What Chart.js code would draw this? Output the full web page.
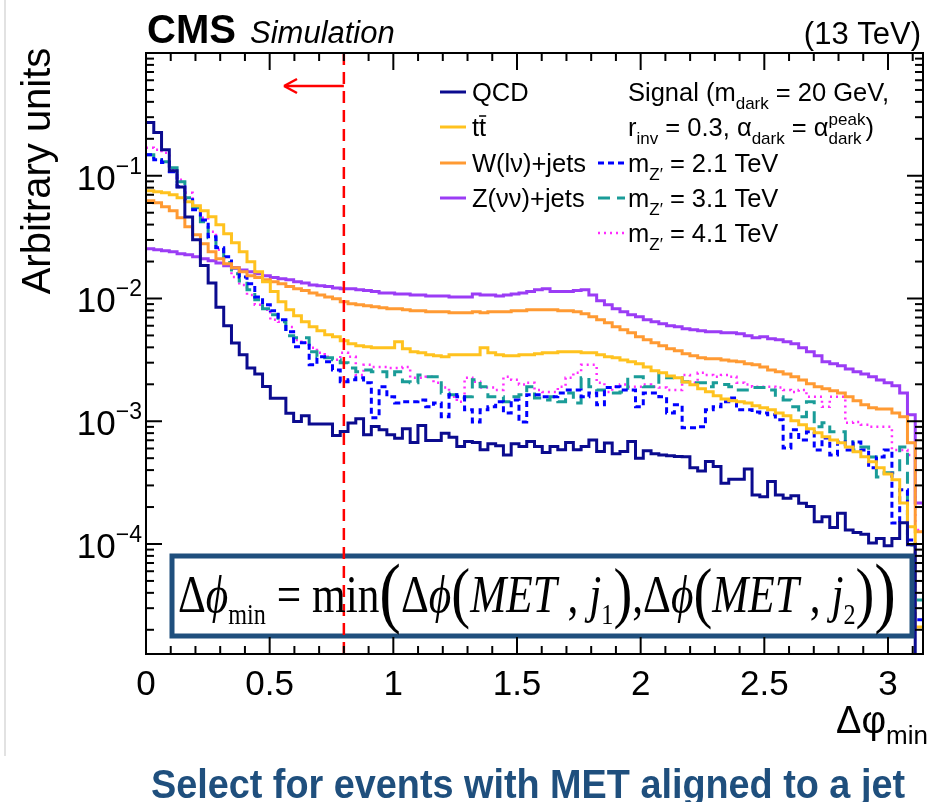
<!DOCTYPE html>
<html>
<head>
<meta charset="utf-8">
<script src="https://cdn.jsdelivr.net/npm/chart.js@4.4.0/dist/chart.umd.min.js"></script>
<style>
  html, body { margin: 0; padding: 0; background: #ffffff; }
  #wrap { width: 927px; height: 802px; }
</style>
</head>
<body>
<div id="wrap"><canvas id="chart" width="927" height="802"></canvas></div>
<script>
// 100 bins of delta phi_min between 0 and pi
const binEdges = Array.from({ length: 101 }, (_, i) => (i * Math.PI) / 100);

const qcd = [0.272,0.225,0.163,0.110,0.0809,0.0461,0.0301,0.0186,0.0134,0.0085,
  0.0060,0.00434,0.00348,0.00271,0.00243,0.00192,0.00154,0.00154,0.00116,0.000995,
  0.00111,0.00095,0.00095,0.00095,0.000764,0.000824,0.000966,0.00105,0.000775,0.000905,
  0.000851,0.000775,0.000728,0.000867,0.00067,0.000922,0.000697,0.000697,0.0008,0.000741,
  0.000622,0.000684,0.00067,0.000585,0.000655,0.000631,0.000532,0.000655,0.000622,0.000684,
  0.000622,0.000556,0.000622,0.000585,0.00067,0.000585,0.000622,0.000705,0.000566,0.000664,
  0.000543,0.000566,0.000684,0.0005,0.000574,0.000543,0.000532,0.000523,0.000516,0.000513,
  0.000417,0.000394,0.00047,0.000428,0.000313,0.000337,0.000337,0.000409,0.000251,0.000243,
  0.000323,0.000251,0.000236,0.000247,0.000215,0.000202,0.000152,0.000167,0.000136,0.000178,
  0.00013,0.000124,0.00012,0.000102,0.000111,0.0000966,0.000111,0.000149,0.0000985,0.000008];

const ttbar = [0.0755,0.0741,0.0727,0.070,0.0662,0.0614,0.0570,0.0519,0.0463,0.0399,
  0.0337,0.0285,0.0240,0.0199,0.0165,0.0137,0.0114,0.0094,0.00809,0.00723,
  0.00646,0.00588,0.00546,0.00506,0.00488,0.00452,0.00428,0.00412,0.00404,0.00397,
  0.00397,0.00397,0.00444,0.00389,0.00368,0.00361,0.00348,0.00341,0.00335,0.00348,
  0.00348,0.00348,0.00348,0.00397,0.00361,0.00348,0.00341,0.00341,0.00348,0.00348,
  0.00354,0.00361,0.00361,0.00368,0.00368,0.00368,0.00361,0.00361,0.00348,0.00335,
  0.00329,0.00316,0.00305,0.00294,0.00277,0.00258,0.00248,0.00234,0.00226,0.00209,
  0.00198,0.00184,0.00174,0.00161,0.00152,0.00147,0.00144,0.00141,0.00134,0.00129,
  0.00124,0.00117,0.00111,0.00101,0.000935,0.000867,0.000804,0.000746,0.000705,0.000667,
  0.000618,0.000563,0.000513,0.000467,0.000417,0.000372,0.000333,0.000216,0.000138,0.0000211];

const wjets = [0.0625,0.0603,0.0559,0.0519,0.0455,0.0384,0.0330,0.0279,0.0240,0.0211,
  0.0192,0.0178,0.0165,0.0153,0.0148,0.0142,0.0137,0.0132,0.0125,0.0120,
  0.0116,0.0111,0.0107,0.0103,0.00995,0.0094,0.00906,0.00888,0.00873,0.00857,
  0.0084,0.00824,0.00824,0.00809,0.00794,0.00794,0.0078,0.0078,0.0078,0.00764,
  0.00764,0.00764,0.0078,0.00764,0.0078,0.0078,0.0078,0.00794,0.00794,0.00809,
  0.00809,0.00809,0.00809,0.00794,0.00794,0.0078,0.0075,0.00709,0.0067,0.00634,
  0.00588,0.00556,0.00525,0.00488,0.00461,0.00436,0.00412,0.00389,0.00375,0.00354,
  0.00341,0.00329,0.00323,0.00323,0.00316,0.0031,0.00305,0.00294,0.00288,0.00277,
  0.00262,0.00253,0.00243,0.0023,0.00217,0.00202,0.00191,0.00184,0.00177,0.0017,
  0.00158,0.00147,0.00136,0.00129,0.00126,0.00126,0.00117,0.00109,0.000667,0.000126];

const zjets = [0.0254,0.0249,0.0245,0.0240,0.0231,0.0227,0.0219,0.0211,0.0203,0.0195,
  0.0185,0.0178,0.0171,0.0165,0.0159,0.0153,0.0148,0.0145,0.0142,0.0137,
  0.0134,0.0129,0.0127,0.0125,0.0122,0.0120,0.0120,0.0118,0.0116,0.0114,
  0.0111,0.0111,0.0109,0.0109,0.0107,0.0107,0.0105,0.0105,0.0105,0.0103,
  0.0103,0.0103,0.0109,0.0107,0.0107,0.0105,0.0107,0.0109,0.0111,0.0114,
  0.0118,0.0120,0.0114,0.0114,0.0114,0.0116,0.0118,0.0107,0.00957,0.00888,
  0.00824,0.00779,0.00736,0.00709,0.0067,0.00646,0.00622,0.0060,0.00588,0.00566,
  0.00556,0.00546,0.00536,0.00536,0.00525,0.00525,0.00515,0.00497,0.00479,0.00488,
  0.0047,0.00461,0.00444,0.00428,0.00397,0.00368,0.00341,0.00305,0.00294,0.00283,
  0.00267,0.00253,0.00243,0.0023,0.00217,0.00206,0.00195,0.0017,0.00113,0.000216];

const sig21 = [0.148,0.135,0.128,0.108,0.0814,0.0637,0.0528,0.0437,0.0318,0.0259,
  0.0219,0.0177,0.0150,0.0132,0.0103,0.00888,0.00794,0.0067,0.00535,0.00404,
  0.00435,0.00288,0.00335,0.00305,0.00262,0.0021,0.00218,0.00226,0.00206,0.00107,
  0.00191,0.00158,0.00141,0.00144,0.00144,0.00149,0.00131,0.00141,0.00109,0.00164,
  0.00158,0.00124,0.000986,0.00124,0.00131,0.00144,0.00117,0.00149,0.000986,0.00164,
  0.00164,0.00158,0.00158,0.0017,0.0018,0.0018,0.00158,0.0017,0.00136,0.00188,
  0.00191,0.0018,0.0018,0.00131,0.0017,0.0017,0.00158,0.00117,0.00136,0.000884,
  0.000884,0.0009,0.00124,0.00131,0.00144,0.00155,0.00124,0.00124,0.00119,0.00117,
  0.00113,0.00103,0.000606,0.000851,0.000705,0.00082,0.000584,0.000732,0.000532,0.000679,
  0.000584,0.000679,0.000584,0.000417,0.000512,0.000584,0.000148,0.000276,0.000108,0.0000241];

const sig31 = [0.148,0.140,0.130,0.116,0.0894,0.0661,0.0548,0.0422,0.0313,0.0249,
  0.0196,0.0159,0.0139,0.0118,0.00976,0.00824,0.00737,0.00645,0.00497,0.00478,
  0.00478,0.00368,0.00335,0.00329,0.00317,0.00299,0.00272,0.00253,0.00262,0.00253,
  0.00253,0.0023,0.00253,0.0021,0.00206,0.00238,0.0023,0.0023,0.0017,0.00164,
  0.00155,0.00158,0.00218,0.00191,0.00158,0.00158,0.00144,0.00158,0.00164,0.00191,
  0.00155,0.00149,0.00158,0.00144,0.0017,0.00141,0.00226,0.00191,0.0018,0.0017,
  0.0017,0.00173,0.0023,0.0023,0.00191,0.00191,0.00248,0.00226,0.00226,0.0021,
  0.00206,0.00206,0.00191,0.00206,0.00199,0.00191,0.0018,0.0018,0.00188,0.00188,
  0.0018,0.00158,0.00149,0.00131,0.00109,0.00144,0.0009,0.000971,0.00082,0.00082,
  0.000679,0.000584,0.000618,0.000512,0.000352,0.00038,0.00038,0.000618,0.0000983,0.000035];

const sig41 = [0.169,0.163,0.154,0.112,0.0928,0.0727,0.0559,0.0454,0.0349,0.0249,
  0.0189,0.0150,0.0129,0.0107,0.00888,0.00809,0.0067,0.00645,0.00587,0.0046,
  0.00435,0.00397,0.00361,0.00335,0.00317,0.00361,0.00335,0.00238,0.00288,0.00277,
  0.00277,0.00272,0.00272,0.00277,0.00226,0.00226,0.0023,0.00206,0.00188,0.00158,
  0.00144,0.00226,0.0021,0.00188,0.00188,0.0018,0.0023,0.00218,0.00199,0.00206,
  0.0018,0.00173,0.00173,0.00191,0.00226,0.00248,0.00288,0.00288,0.00206,0.00173,
  0.00191,0.00199,0.00191,0.00191,0.00199,0.00191,0.00188,0.0018,0.0018,0.00238,
  0.00206,0.00248,0.00238,0.0023,0.00238,0.0023,0.00206,0.00199,0.00191,0.00191,
  0.00191,0.00188,0.0018,0.00173,0.0018,0.00158,0.00158,0.00131,0.00158,0.00158,
  0.000971,0.000986,0.000935,0.0009,0.0009,0.0009,0.000584,0.000584,0.000532,0.00013];

const xTickValues = [0, 0.5, 1, 1.5, 2, 2.5, 3];
const xTickLabels = ['0', '0.5', '1', '1.5', '2', '2.5', '3'];
const yTickValues = [1e-1, 1e-2, 1e-3, 1e-4];
const yTickExponents = ['\u22121', '\u22122', '\u22123', '\u22124'];
const cutValue = 0.8;

const SANS = '"Liberation Sans", Arial, Helvetica, sans-serif';
const SERIF = '"Liberation Serif", "DejaVu Serif", "Times New Roman", serif';

function histo(values) {
  const pts = values.map((v, i) => ({ x: binEdges[i], y: v }));
  pts.push({ x: binEdges[values.length], y: values[values.length - 1] });
  return pts;
}

const datasets = [
  { label: 'QCD', data: histo(qcd), borderColor: '#0b0b8f', borderWidth: 3 },
  { label: 'ttbar', data: histo(ttbar), borderColor: '#ffc21f', borderWidth: 3 },
  { label: 'W(lv)+jets', data: histo(wjets), borderColor: '#ff9a33', borderWidth: 3 },
  { label: 'Z(vv)+jets', data: histo(zjets), borderColor: '#9b3cf5', borderWidth: 3 },
  { label: 'mZ 2.1', data: histo(sig21), borderColor: '#0000ff', borderWidth: 3, borderDash: [6, 4] },
  { label: 'mZ 3.1', data: histo(sig31), borderColor: '#1a9c98', borderWidth: 3, borderDash: [12, 7] },
  { label: 'mZ 4.1', data: histo(sig41), borderColor: '#ff2bff', borderWidth: 2.5, borderDash: [2, 4] }
].map(d => Object.assign({ stepped: 'before', fill: false, pointRadius: 0, tension: 0 }, d));

// draw text pieces: mode '' normal, 'sub', 'sup', 'ss' (sup+sub stacked)
function rich(ctx, x, y, parts, size) {
  let cx = x;
  for (const [t, m] of parts) {
    const small = Math.round(size * 0.68);
    if (m === 'ss') {
      ctx.font = `${small}px ${SANS}`;
      ctx.fillText(t[0], cx, y - size * 0.42);
      ctx.fillText(t[1], cx, y + size * 0.3);
      cx += Math.max(ctx.measureText(t[0]).width, ctx.measureText(t[1]).width);
      continue;
    }
    ctx.font = `${m ? small : size}px ${SANS}`;
    const dy = m === 'sub' ? size * 0.3 : m === 'sup' ? -size * 0.42 : 0;
    ctx.fillText(t, cx, y + dy);
    cx += ctx.measureText(t).width;
  }
  return cx - x;
}

function line(ctx, x1, y1, x2, y2) {
  ctx.beginPath(); ctx.moveTo(x1, y1); ctx.lineTo(x2, y2); ctx.stroke();
}

function drawFormula(ctx, left, right, baseline) {
  const F = 52;
  const fonts = {
    r: [`${F}px ${SERIF}`, 0],
    i: [`italic ${F}px ${SERIF}`, 0],
    sub: [`${Math.round(F * 0.56)}px ${SERIF}`, 12],
    mid: [`${Math.round(F * 1.3)}px ${SERIF}`, 3],
    big: [`${Math.round(F * 1.5)}px ${SERIF}`, 6]
  };
  const parts = [['\u0394', 'r'], ['\u03d5', 'i'], ['min', 'sub'], [' = ', 'r'], ['min', 'r'], ['(', 'big'],
    ['\u0394', 'r'], ['\u03d5', 'i'], ['(', 'mid'], ['MET', 'i'], [' , ', 'r'], ['j', 'i'], ['1', 'sub'], [')', 'mid'],
    [',', 'r'], ['\u0394', 'r'], ['\u03d5', 'i'], ['(', 'mid'], ['MET', 'i'], [' , ', 'r'], ['j', 'i'], ['2', 'sub'],
    [')', 'mid'], [')', 'big']];
  let total = 0;
  for (const [t, k] of parts) { ctx.font = fonts[k][0]; total += ctx.measureText(t).width; }
  ctx.save();
  ctx.translate(left, baseline);
  ctx.scale((right - left) / total, 1);
  ctx.fillStyle = '#000';
  ctx.textBaseline = 'alphabetic';
  let cx = 0;
  for (const [t, k] of parts) {
    ctx.font = fonts[k][0];
    ctx.fillText(t, cx, fonts[k][1]);
    cx += ctx.measureText(t).width;
  }
  ctx.restore();
}

const rootDecor = {
  id: 'rootDecor',
  afterDatasetsDraw(chart) {
    const { ctx, chartArea: a, scales: { x, y } } = chart;
    ctx.save();

    // formula box
    ctx.fillStyle = '#ffffff';
    ctx.fillRect(172, 556, 740, 80);
    ctx.strokeStyle = '#1f4f7d';
    ctx.lineWidth = 5;
    ctx.strokeRect(172, 556, 740, 80);

    // cut line and arrow
    const cx = x.getPixelForValue(cutValue);
    ctx.strokeStyle = '#ff0000';
    ctx.lineWidth = 2.5;
    ctx.setLineDash([12, 7]);
    line(ctx, cx, a.top, cx, a.bottom);
    ctx.setLineDash([]);
    ctx.lineWidth = 2.5;
    line(ctx, cx, 86, 285, 86);
    line(ctx, 284, 86, 297, 79);
    line(ctx, 284, 86, 297, 93);

    drawFormula(ctx, 178, 896, 612);

    // frame and inward ticks
    ctx.strokeStyle = '#000';
    ctx.lineWidth = 2;
    ctx.strokeRect(a.left, a.top, a.right - a.left, a.bottom - a.top);
    for (let i = 0; i <= 31; i++) {
      const px = x.getPixelForValue(i / 10);
      const L = i % 5 === 0 ? 17 : 8;
      line(ctx, px, a.bottom, px, a.bottom - L);
      line(ctx, px, a.top, px, a.top + L);
    }
    for (let e = -5; e <= 0; e++) {
      for (let m = 1; m <= 9; m++) {
        const v = m * Math.pow(10, e);
        if (v < y.min || v > y.max) continue;
        const py = y.getPixelForValue(v);
        const L = m === 1 ? 16 : 8;
        line(ctx, a.left, py, a.left + L, py);
        line(ctx, a.right, py, a.right - L, py);
      }
    }

    // tick labels
    ctx.fillStyle = '#000';
    ctx.textBaseline = 'alphabetic';
    ctx.font = `35px ${SANS}`;
    ctx.textAlign = 'center';
    xTickValues.forEach((v, i) => ctx.fillText(xTickLabels[i], x.getPixelForValue(v), a.bottom + 41));
    ctx.textAlign = 'left';
    yTickValues.forEach((v, i) => {
      const py = y.getPixelForValue(v);
      ctx.font = `23px ${SANS}`;
      const ew = ctx.measureText(yTickExponents[i]).width;
      ctx.font = `35px ${SANS}`;
      const bw = ctx.measureText('10').width;
      const x0 = 142 - ew - bw;
      ctx.fillText('10', x0, py + 14);
      ctx.font = `23px ${SANS}`;
      ctx.fillText(yTickExponents[i], x0 + bw, py - 2);
    });
    ctx.restore();
  },
  afterDraw(chart) {
    const { ctx } = chart;
    const ds = chart.data.datasets;
    ctx.save();
    ctx.fillStyle = '#000';
    ctx.textBaseline = 'alphabetic';

    // left slide edge
    ctx.strokeStyle = '#e2e2e2';
    ctx.lineWidth = 2;
    line(ctx, 5, 0, 5, 756);

    // header
    ctx.font = `bold 40px ${SANS}`;
    ctx.fillText('CMS', 147, 43);
    ctx.font = `italic 31px ${SANS}`;
    ctx.fillText('Simulation', 250, 43);
    ctx.textAlign = 'right';
    ctx.font = `31px ${SANS}`;
    ctx.fillText('(13 TeV)', 921, 44);
    ctx.textAlign = 'left';

    // axis titles
    ctx.save();
    ctx.translate(50, 171);
    ctx.rotate(-Math.PI / 2);
    ctx.textAlign = 'center';
    ctx.font = `40px ${SANS}`;
    ctx.fillText('Arbitrary units', 0, 0);
    ctx.restore();
    rich(ctx, 836, 733, [['\u0394\u03c6', ''], ['min', 'sub']], 38);

    // legend
    const sample = (d, x1, x2, yy) => {
      ctx.save();
      ctx.strokeStyle = d.borderColor;
      ctx.lineWidth = d.borderWidth;
      ctx.setLineDash(d.borderDash || []);
      line(ctx, x1, yy, x2, yy);
      ctx.restore();
    };
    const rowsY = [92, 127, 163, 198, 233];
    const LS = 25.5;
    sample(ds[0], 440, 466, rowsY[0]);
    rich(ctx, 472, rowsY[0] + 9, [['QCD', '']], LS);
    sample(ds[1], 440, 466, rowsY[1]);
    ctx.font = `${LS}px ${SANS}`;
    const tw = ctx.measureText('t').width;
    rich(ctx, 472, rowsY[1] + 9, [['tt', '']], LS);
    ctx.strokeStyle = '#000';
    ctx.lineWidth = 1.5;
    line(ctx, 472 + tw, rowsY[1] - 11, 472 + 2 * tw, rowsY[1] - 11);
    sample(ds[2], 440, 466, rowsY[2]);
    rich(ctx, 472, rowsY[2] + 9, [['W(l\u03bd)+jets', '']], LS);
    sample(ds[3], 440, 466, rowsY[3]);
    rich(ctx, 472, rowsY[3] + 9, [['Z(\u03bd\u03bd)+jets', '']], LS);

    rich(ctx, 628, rowsY[0] + 9, [['Signal (m', ''], ['dark', 'sub'], [' = 20 GeV,', '']], LS);
    rich(ctx, 628, rowsY[1] + 9, [['r', ''], ['inv', 'sub'], [' = 0.3, \u03b1', ''], ['dark', 'sub'],
      [' = \u03b1', ''], [['peak', 'dark'], 'ss'], [')', '']], LS);
    const masses = ['2.1', '3.1', '4.1'];
    masses.forEach((m, i) => {
      sample(ds[4 + i], 598, 625, rowsY[2 + i]);
      rich(ctx, 628, rowsY[2 + i] + 9, [['m', ''], ['Z\u2032', 'sub'], [` = ${m} TeV`, '']], LS);
    });

    // slide caption
    ctx.save();
    ctx.fillStyle = '#1f4f7d';
    ctx.font = `bold 40px ${SANS}`;
    const cap = 'Select for events with MET aligned to a jet';
    const cw = ctx.measureText(cap).width;
    ctx.translate(151, 798);
    ctx.scale(754 / cw, 1);
    ctx.fillText(cap, 0, 0);
    ctx.restore();

    ctx.restore();
  }
};

new Chart(document.getElementById('chart').getContext('2d'), {
  type: 'line',
  data: { datasets },
  options: {
    responsive: false,
    animation: false,
    events: [],
    layout: { padding: { top: 53, right: 4, left: 0, bottom: 0 } },
    plugins: { legend: { display: false }, tooltip: { enabled: false }, title: { display: false } },
    scales: {
      x: {
        type: 'linear', min: 0, max: Math.PI,
        grid: { display: false }, border: { display: false }, ticks: { display: false },
        afterFit(s) { s.height = 148; }
      },
      y: {
        type: 'logarithmic', min: 1.27e-5, max: 1.0,
        grid: { display: false }, border: { display: false }, ticks: { display: false },
        afterFit(s) { s.width = 146; }
      }
    }
  },
  plugins: [rootDecor]
});
</script>
</body>
</html>
